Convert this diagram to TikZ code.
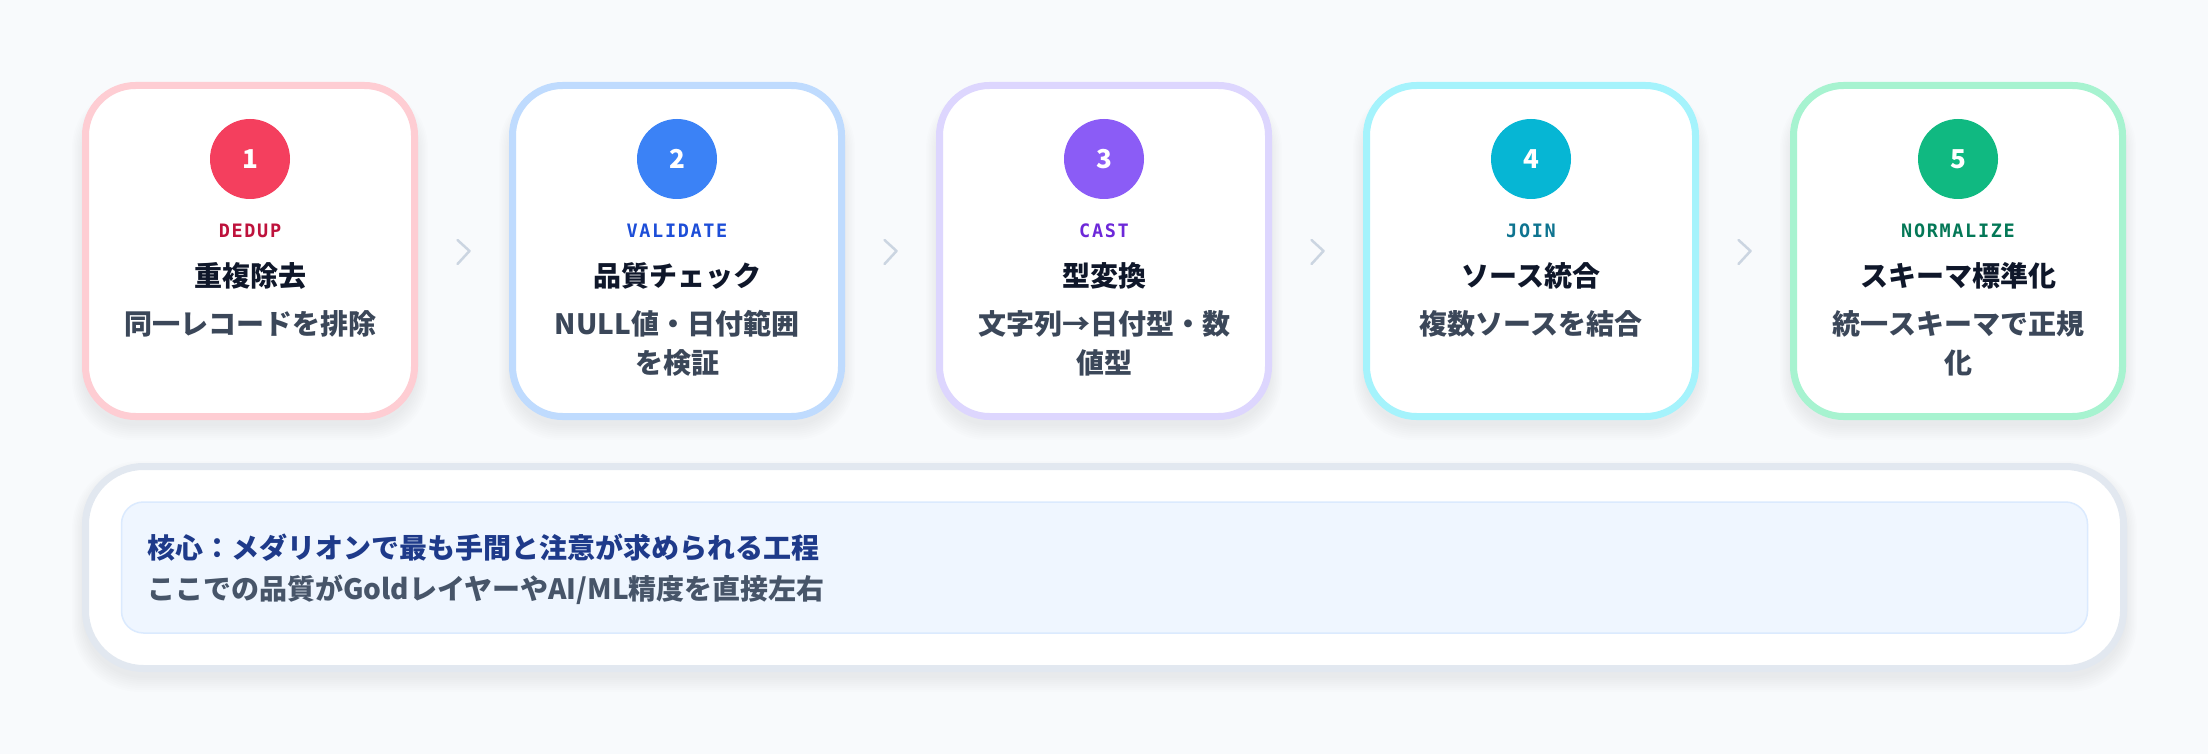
\documentclass[tikz,border=0pt]{standalone}
\usepackage{fontspec}
\usetikzlibrary{calc}
\setmainfont{Noto Sans CJK JP}
\newfontfamily\jp{Noto Sans CJK JP}
\newcommand\subfont{\jp\bfseries}
\newfontfamily\mono{DejaVu Sans Mono}[LetterSpace=9]
\definecolor{bgc}{HTML}{F8FAFC}
\definecolor{ink}{HTML}{0F172A}
\definecolor{subc}{HTML}{3B4759}
\definecolor{chevc}{HTML}{CBD5E1}
\definecolor{b1}{HTML}{FECDD3}\definecolor{f1}{HTML}{F43F5E}\definecolor{l1}{HTML}{BE123C}
\definecolor{b2}{HTML}{BFDBFE}\definecolor{f2}{HTML}{3B82F6}\definecolor{l2}{HTML}{1D4ED8}
\definecolor{b3}{HTML}{DDD6FE}\definecolor{f3}{HTML}{8B5CF6}\definecolor{l3}{HTML}{6D28D9}
\definecolor{b4}{HTML}{A5F3FC}\definecolor{f4}{HTML}{06B6D4}\definecolor{l4}{HTML}{0E7490}
\definecolor{b5}{HTML}{A7F3D0}\definecolor{f5}{HTML}{10B981}\definecolor{l5}{HTML}{047857}
\definecolor{outerb}{HTML}{E2E8F0}
\definecolor{innerb}{HTML}{DBEAFE}
\definecolor{innerf}{HTML}{EFF6FF}
\definecolor{notehd}{HTML}{1E3A8A}
\definecolor{notebd}{HTML}{475569}
\begin{document}
\begin{tikzpicture}[x=1pt,y=-1pt,
  cardbox/.style={rectangle, draw, line width=7pt, fill=white, rounded corners=50pt,
    minimum width=329pt, minimum height=331pt, inner sep=0pt},
  numc/.style={circle, minimum size=80pt, inner sep=0pt, text=white,
    font=\jp\bfseries\fontsize{26}{26}\selectfont},
  labtxt/.style={font=\mono\bfseries\fontsize{18.5}{19}\selectfont, inner sep=0pt},
  ttltxt/.style={font=\jp\bfseries\fontsize{28}{32}\selectfont, text=ink, inner sep=0pt},
  subtxt/.style={font=\subfont\fontsize{28}{39}\selectfont, text=subc, align=center, inner sep=0pt},
  chev/.style={draw=chevc, line width=2.5pt, line cap=round, line join=round},
  shade/.style={fill=black, opacity=0.006}
]
\fill[bgc] (0,0) rectangle (2208,754);
\useasboundingbox (0,0) rectangle (2208,754);
% shadows
\foreach \qx in {250,677,1104,1531,1958}{
  \foreach \k in {1,...,8}{
    \fill[shade, rounded corners={52pt+\k pt}] ({\qx-166-1.5*\k},{100-1.5*\k}) rectangle ({\qx+166+1.5*\k},{424+2*\k});
  }
}
\foreach \k in {1,...,8}{
  \fill[shade, rounded corners={60pt+\k pt}] ({84-1.5*\k},{473-1.5*\k}) rectangle ({2125+1.5*\k},{676+2*\k});
}
% cards
\foreach \qn/\qx/\qb/\qf/\ql/\qk/\qt/\qs/\qy in {
  1/250/b1/f1/l1/DEDUP/重複除去/同一レコードを排除/324,
  2/677/b2/f2/l2/VALIDATE/品質チェック/{NULL値・日付範囲\\を検証}/343.5,
  3/1104/b3/f3/l3/CAST/型変換/{文字列→日付型・数\\値型}/343.5,
  4/1531/b4/f4/l4/JOIN/ソース統合/複数ソースを結合/324,
  5/1958/b5/f5/l5/NORMALIZE/スキーマ標準化/{統一スキーマで正規\\化}/343.5}{
  \node[cardbox, draw=\qb] (card\qn) at (\qx,251) {};
  \node[numc, fill=\qf] (num\qn) at (\qx,159) {\qn};
  \node[labtxt, text=\ql] (lab\qn) at (\qx,231) {\qk};
  \node[ttltxt] (ttl\qn) at (\qx,276) {\qt};
  \node[subtxt] (sub\qn) at (\qx,\qy) {\qs};
}
% chevrons between cards
\foreach \qa/\qb in {1/2,2/3,3/4,4/5}{
  \coordinate (m\qa) at ($(card\qa.east)!0.5!(card\qb.west)$);
  \draw[chev] ([xshift=-6pt,yshift=11pt]m\qa) -- ([xshift=6pt]m\qa) -- ([xshift=-6pt,yshift=-13pt]m\qa);
}
% bottom panel
\node[rectangle, draw=outerb, line width=7pt, fill=white, rounded corners=58pt,
  minimum width=2038pt, minimum height=202pt, inner sep=0pt] (panel) at (1104.5,567.5) {};
\node[rectangle, draw=innerb, line width=1.5pt, fill=innerf, rounded corners=22pt,
  minimum width=1966pt, minimum height=131pt, inner sep=0pt] (note) at (panel.center) {};
\node[anchor=west, align=left, inner sep=0pt, font=\jp\bfseries\fontsize{28}{41}\selectfont] (notetext) at (147,569.5)
  {\textcolor{notehd}{核心：メダリオンで最も手間と注意が求められる工程}\\\textcolor{notebd}{ここでの品質がGoldレイヤーやAI/ML精度を直接左右}};
\end{tikzpicture}
\end{document}
